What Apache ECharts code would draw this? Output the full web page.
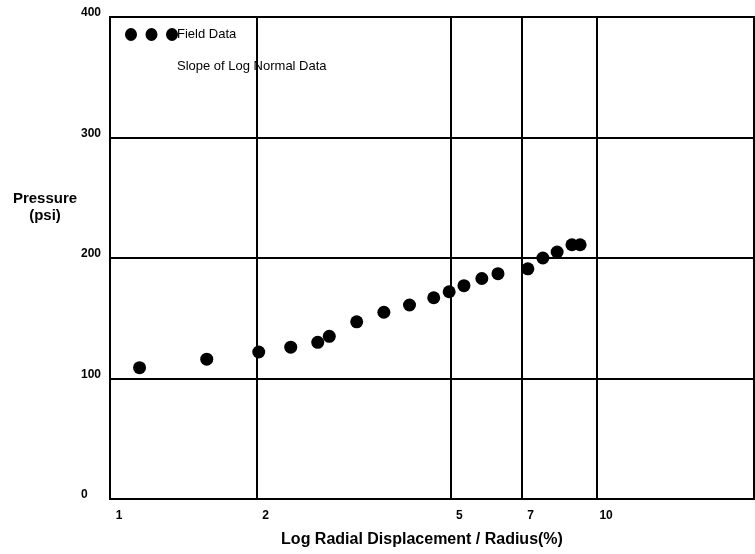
<!DOCTYPE html>
<html>
<head>
<meta charset="utf-8">
<script src="https://cdn.jsdelivr.net/npm/echarts@6/dist/echarts.min.js"></script>
<style>
html,body{margin:0;padding:0;background:#fff;}
#chart{width:755px;height:554px;}
</style>
</head>
<body>
<div id="chart"></div>
<script>
// Field data: radial displacement / radius (%) vs pressure (psi)
var displacement = [1.15, 1.58, 2.02, 2.35, 2.67, 2.82, 3.21, 3.65, 4.12, 4.62, 4.97, 5.33, 5.80, 6.26, 7.21, 7.74, 8.28, 8.88, 9.23];
var pressure =     [109, 116, 122, 126, 130, 135, 147, 155, 161, 167, 172, 177, 183, 187, 191, 200, 205, 211, 211];
var xTickLabels = [1, 2, 5, 7, 10];
var xGridValues = [2, 5, 7, 10];
var yTicks = [0, 100, 200, 300, 400];

var fieldData = displacement.map(function (d, i) { return [d, pressure[i]]; });

var chart = echarts.init(document.getElementById('chart'), null, {renderer: 'canvas'});
var font = '"Liberation Sans", Arial, sans-serif';
chart.setOption({
  animation: false,
  backgroundColor: '#fff',
  title: {
    text: 'Pressure\n(psi)',
    left: 40,
    top: 185,
    textAlign: 'center',
    textStyle: {fontFamily: font, fontSize: 15, fontWeight: 'bold', color: '#000', lineHeight: 17}
  },
  legend: {
    orient: 'vertical',
    left: 120,
    top: 23,
    itemWidth: 53,
    itemHeight: 13,
    itemGap: 19,
    inactiveColor: '#000',
    textStyle: {fontFamily: font, fontSize: 13, color: '#000', padding: [0, 0, 0, -6]},
    data: [
      {name: 'Field Data', icon: 'path://M0,6.5a6,6.5 0 1,0 12,0a6,6.5 0 1,0 -12,0zM20.5,6.5a6,6.5 0 1,0 12,0a6,6.5 0 1,0 -12,0zM41,6.5a6,6.5 0 1,0 12,0a6,6.5 0 1,0 -12,0z'},
      {name: 'Slope of Log Normal Data', icon: 'none'}
    ]
  },
  grid: {
    left: 110, right: 1, top: 17, bottom: 55,
    show: true, borderColor: '#000', borderWidth: 2
  },
  xAxis: {
    type: 'log',
    logBase: 10,
    min: 1,
    max: 21,
    name: 'Log Radial Displacement / Radius(%)',
    nameLocation: 'middle',
    nameGap: 33,
    nameTextStyle: {fontFamily: font, fontSize: 16, fontWeight: 'bold', color: '#000', padding: [0, 20, 0, 0]},
    axisLine: {show: true, lineStyle: {color: '#000', width: 2}},
    axisTick: {show: false, customValues: xGridValues},
    axisLabel: {
      customValues: xTickLabels,
      margin: 11,
      fontFamily: font, fontSize: 12, fontWeight: 'bold', color: '#000',
      padding: [0, 0, 0, 18]
    },
    splitLine: {show: true, lineStyle: {color: '#000', width: 2}},
    minorSplitLine: {show: false}
  },
  yAxis: {
    type: 'value',
    min: 0,
    max: 400,
    interval: 100,
    axisLine: {show: true, lineStyle: {color: '#000', width: 2}},
    axisTick: {show: false},
    axisLabel: {
      margin: 29, align: 'left', verticalAlign: 'bottom', lineHeight: 8,
      fontFamily: font, fontSize: 12, fontWeight: 'bold', color: '#000'
    },
    splitLine: {show: true, lineStyle: {color: '#000', width: 2}}
  },
  series: [
    {
      name: 'Field Data',
      type: 'scatter',
      symbol: 'circle',
      symbolSize: 13,
      itemStyle: {color: '#000', opacity: 1},
      data: fieldData
    },
    {
      name: 'Slope of Log Normal Data',
      type: 'line',
      showSymbol: false,
      lineStyle: {color: '#000', width: 2},
      itemStyle: {color: '#000'},
      data: []
    }
  ]
});
</script>
</body>
</html>
